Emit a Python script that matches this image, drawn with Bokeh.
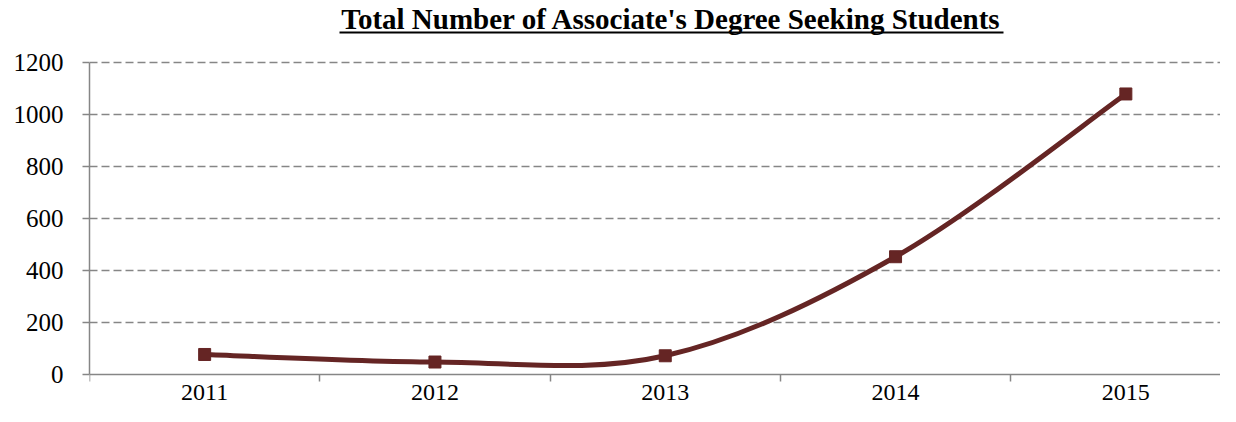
from bokeh.plotting import figure
from bokeh.models import Range1d, FixedTicker, Label
from bokeh.embed import file_html
from bokeh.resources import INLINE

# ---- data ----
title_text = "Total Number of Associate's Degree Seeking Students"
years = ["2011", "2012", "2013", "2014", "2015"]
students = [77, 48, 72, 453, 1079]
y_ticks = [0, 200, 400, 600, 800, 1000, 1200]

# ---- layout constants ----
W, H = 1220, 406
border_left = 89
frame_w = W - border_left
frame_h = H
zero_px = 374          # canvas y of value 0
top_px = 62            # canvas y of value 1200
ppu = (zero_px - top_px) / 1200.0
y_start = -(frame_h - zero_px) / ppu
y_end = zero_px / ppu
x_end = frame_w / 230.3 - 0.5

LINE_COLOR = "#652524"
GRAY = "#868686"
FONT = "Liberation Serif"

p = figure(width=W, height=H, output_backend="svg", toolbar_location=None,
           x_range=Range1d(-0.5, x_end), y_range=Range1d(y_start, y_end),
           min_border_left=border_left, min_border_right=0,
           min_border_top=0, min_border_bottom=0)
p.outline_line_color = None
p.background_fill_color = "white"
p.border_fill_color = "white"

p.extra_x_ranges = {"px": Range1d(0, frame_w)}
p.extra_y_ranges = {"py": Range1d(0, frame_h)}

xs = list(range(len(years)))

# ---- axes ----
xa = p.xaxis[0]
xa.fixed_location = 0
xa.ticker = FixedTicker(ticks=xs, minor_ticks=[i - 0.5 for i in xs] + [xs[-1] + 0.5])
xa.major_label_overrides = {i: y for i, y in zip(xs, years)}
xa.major_tick_out = 0
xa.major_tick_in = 0
xa.minor_tick_out = 7
xa.minor_tick_in = 0
xa.minor_tick_line_color = GRAY
xa.minor_tick_line_width = 1.5
xa.axis_line_color = GRAY
xa.axis_line_width = 1.5
xa.major_label_text_font = FONT
xa.major_label_text_font_size = "24px"
xa.major_label_text_color = "black"
xa.major_label_standoff = 3

ya = p.yaxis[0]
ya.ticker = FixedTicker(ticks=y_ticks, minor_ticks=[])
ya.bounds = (y_ticks[0], y_ticks[-1])
ya.major_tick_out = 7
ya.major_tick_in = 0
ya.minor_tick_out = 0
ya.minor_tick_in = 0
ya.major_tick_line_color = GRAY
ya.major_tick_line_width = 1.5
ya.axis_line_color = GRAY
ya.axis_line_width = 1.5
ya.major_label_text_font = FONT
ya.major_label_text_font_size = "25px"
ya.major_label_text_color = "black"
ya.major_label_standoff = 19

p.xgrid.visible = False
p.ygrid.ticker = FixedTicker(ticks=y_ticks[1:])
p.ygrid.grid_line_color = GRAY
p.ygrid.grid_line_dash = "8 4"
p.ygrid.grid_line_width = 1.4

# ---- smoothed line (Catmull-Rom style Bezier through the data) ----
n = len(xs)
x0, y0, x1, y1, cx0, cy0, cx1, cy1 = [], [], [], [], [], [], [], []
for i in range(n - 1):
    pm = max(i - 1, 0)
    pp = min(i + 2, n - 1)
    x0.append(xs[i]); y0.append(students[i])
    x1.append(xs[i + 1]); y1.append(students[i + 1])
    cx0.append(xs[i] + (xs[i + 1] - xs[pm]) / 6.0)
    cy0.append(students[i] + (students[i + 1] - students[pm]) / 6.0)
    cx1.append(xs[i + 1] - (xs[pp] - xs[i]) / 6.0)
    cy1.append(students[i + 1] - (students[pp] - students[i]) / 6.0)

p.bezier(x0=x0, y0=y0, x1=x1, y1=y1, cx0=cx0, cy0=cy0, cx1=cx1, cy1=cy1,
         line_color=LINE_COLOR, line_width=5, line_cap="round")
p.scatter(x=xs, y=students, marker="square", size=12,
          fill_color=LINE_COLOR, line_color=LINE_COLOR)

# ---- title with underline ----
title_cx = 582
p.add_layout(Label(x=title_cx, y=frame_h - 18, x_range_name="px", y_range_name="py",
                   text=title_text, text_font=FONT, text_font_style="bold",
                   text_font_size="29px", text_color="black",
                   text_align="center", text_baseline="alphabetic"))
half_w = 332
p.segment(x0=[title_cx - half_w], y0=[frame_h - 32], x1=[title_cx + half_w], y1=[frame_h - 32],
          x_range_name="px", y_range_name="py", line_color="black", line_width=2)

open("out.html", "w").write(file_html(p, INLINE))
